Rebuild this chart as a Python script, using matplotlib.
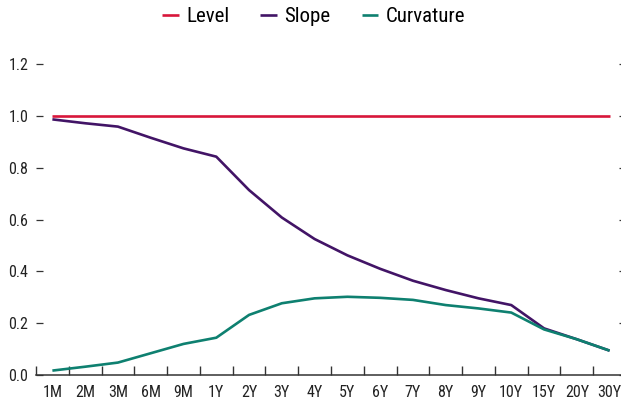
import numpy as np
import matplotlib
matplotlib.use("Agg")
import matplotlib.pyplot as plt

plt.rcParams['font.family'] = ['Roboto Condensed', 'IBM Plex Sans Condensed',
                               'Liberation Sans Narrow', 'DejaVu Sans']

# data
maturities = ['1M', '2M', '3M', '6M', '9M', '1Y', '2Y', '3Y', '4Y', '5Y',
              '6Y', '7Y', '8Y', '9Y', '10Y', '15Y', '20Y', '30Y']
level = [1.0] * 18
slope = [0.987, 0.972, 0.959, 0.916, 0.875, 0.843, 0.714, 0.608, 0.525, 0.462,
         0.410, 0.364, 0.328, 0.296, 0.270, 0.180, 0.138, 0.094]
curvature = [0.017, 0.032, 0.048, 0.084, 0.120, 0.144, 0.232, 0.277, 0.296, 0.302,
             0.298, 0.290, 0.270, 0.257, 0.241, 0.176, 0.138, 0.094]
y_ticks = [0.0, 0.2, 0.4, 0.6, 0.8, 1.0, 1.2]

colors = {'Level': '#d8163a', 'Slope': '#421466', 'Curvature': '#0e8070'}

fig = plt.figure(figsize=(6.21, 4.03), dpi=100)
ax = fig.add_axes([36 / 621, 28 / 403, 590 / 621, 310.8 / 403])

x = np.arange(len(maturities))
ax.plot(x, level, color=colors['Level'], lw=1.9, label='Level', solid_capstyle='butt')
ax.plot(x, slope, color=colors['Slope'], lw=1.9, label='Slope', solid_capstyle='butt')
ax.plot(x, curvature, color=colors['Curvature'], lw=1.9, label='Curvature',
        solid_capstyle='butt')

ax.set_xlim(-0.5, len(maturities) - 0.5)
ax.set_ylim(0, 1.2)

# category boundaries as ticks, labels in the middle
ax.set_xticks(np.arange(len(maturities) + 1) - 0.5)
ax.set_xticklabels([])
ax.set_xticks(x, minor=True)
ax.set_xticklabels(maturities, minor=True)
ax.tick_params(axis='x', which='major', direction='in', length=6.5, width=1.0,
               color='#333333')
ax.tick_params(axis='x', which='minor', length=0, pad=7, labelsize=11.5,
               labelcolor='#222222')

ax.set_yticks(y_ticks)
ax.set_yticklabels([f'{v:.1f}' for v in y_ticks])
ax.tick_params(axis='y', direction='in', length=5, width=0.9, color='#333333',
               right=True, pad=5.5, labelsize=11.5, labelcolor='#222222')

for side in ['left', 'top', 'right']:
    ax.spines[side].set_visible(False)
ax.spines['bottom'].set_color('#333333')
ax.spines['bottom'].set_linewidth(1.1)

fig.legend(loc='upper center', bbox_to_anchor=(0.505, 0.99), ncol=3, frameon=False,
           fontsize=15, handlelength=0.8, handletextpad=0.35, columnspacing=1.5,
           borderaxespad=0.0, borderpad=0.15)

fig.savefig('out.png', dpi=100)
